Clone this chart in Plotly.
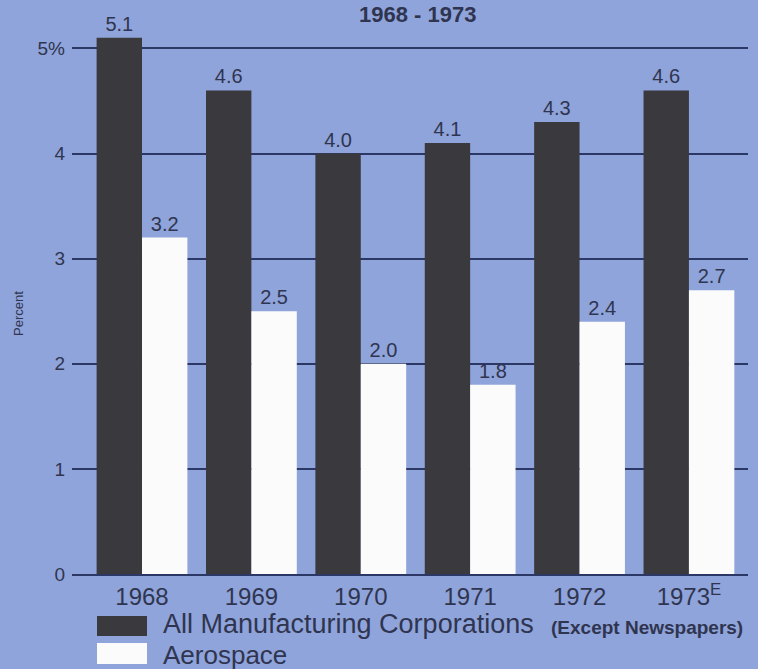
import plotly.graph_objects as go

years = ["1968", "1969", "1970", "1971", "1972", "1973<sup>E</sup>"]
all_mfg = [5.1, 4.6, 4.0, 4.1, 4.3, 4.6]
aerospace = [3.2, 2.5, 2.0, 1.8, 2.4, 2.7]
y_ticks = [0, 1, 2, 3, 4, 5]
y_tick_text = ["0", "1", "2", "3", "4", "5%"]

BG = "#8fa4da"
DARK = "#3a393e"
WHITE = "#fbfbfb"
TXT = "#2f3550"
GRID = "#2b3866"
NUMF = "Liberation Sans, Arial, Helvetica, sans-serif"
SANS = "Liberation Sans, Arial, Helvetica, sans-serif"

fig = go.Figure()
fig.add_trace(go.Bar(
    x=years, y=all_mfg, name="All Manufacturing Corporations",
    marker=dict(color=DARK, line=dict(width=0)),
    texttemplate="%{y:.1f}", textposition="outside",
    textfont=dict(family=NUMF, size=20, color=TXT),
    cliponaxis=False,
))
fig.add_trace(go.Bar(
    x=years, y=aerospace, name="Aerospace",
    marker=dict(color=WHITE, line=dict(width=0)),
    texttemplate="%{y:.1f}", textposition="outside",
    textfont=dict(family=NUMF, size=20, color=TXT),
    cliponaxis=False,
))

# plot area: x 72..748 px, y 20..574 px
def px_x(p):
    return (p - 72) / 676.0

def px_y(p):
    return (574 - p) / 554.0

shapes = [
    dict(type="rect", xref="paper", yref="paper",
         x0=px_x(97), x1=px_x(147), y0=px_y(636), y1=px_y(616),
         fillcolor=DARK, line=dict(width=0)),
    dict(type="rect", xref="paper", yref="paper",
         x0=px_x(97), x1=px_x(147), y0=px_y(664), y1=px_y(643),
         fillcolor=WHITE, line=dict(width=0)),
]

annotations = [
    dict(text="<b>1968 - 1973</b>", xref="paper", yref="paper",
         x=px_x(417), y=px_y(14), xanchor="center", yanchor="middle",
         showarrow=False, font=dict(family=SANS, size=22, color=TXT)),
    dict(text="All Manufacturing Corporations", xref="paper", yref="paper",
         x=px_x(161), y=px_y(624), xanchor="left", yanchor="middle",
         showarrow=False, font=dict(family=SANS, size=27, color=TXT)),
    dict(text="<b>(Except Newspapers)</b>", xref="paper", yref="paper",
         x=px_x(549), y=px_y(627), xanchor="left", yanchor="middle",
         showarrow=False, font=dict(family=SANS, size=19, color=TXT)),
    dict(text="Aerospace", xref="paper", yref="paper",
         x=px_x(161), y=px_y(655), xanchor="left", yanchor="middle",
         showarrow=False, font=dict(family=SANS, size=26, color=TXT)),
    dict(text="Percent", xref="paper", yref="paper",
         x=px_x(18), y=px_y(313), xanchor="center", yanchor="middle",
         textangle=-90, showarrow=False,
         font=dict(family=SANS, size=13, color=TXT)),
]

fig.update_layout(
    width=758, height=669,
    margin=dict(l=72, r=10, t=20, b=95),
    paper_bgcolor=BG, plot_bgcolor=BG,
    barmode="group", bargap=0.17, bargroupgap=0.0,
    showlegend=False,
    shapes=shapes, annotations=annotations,
    xaxis=dict(
        range=[-0.64, 5.54], showgrid=False, zeroline=False,
        showline=True, linecolor=GRID, linewidth=2,
        ticks="", tickfont=dict(family=NUMF, size=24, color=TXT),
        ticklabelstandoff=0,
    ),
    yaxis=dict(
        range=[0, 5.27], tickvals=y_ticks, ticktext=y_tick_text,
        showgrid=True, gridcolor=GRID, gridwidth=1.5,
        zeroline=False, showline=False, ticks="",
        tickfont=dict(family=NUMF, size=19, color=TXT),
        ticklabelstandoff=6,
    ),
)

fig.write_html(
    "out.html",
    config={"displayModeBar": False},
    post_script="document.body.style.margin='0';document.body.style.overflow='hidden';",
)
